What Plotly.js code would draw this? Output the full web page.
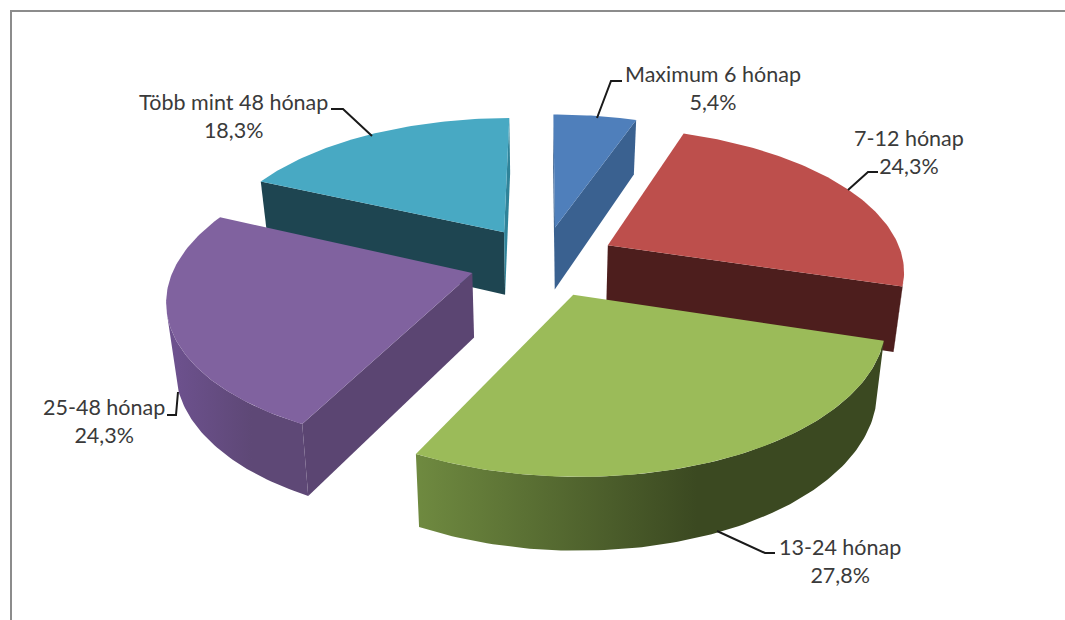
<!DOCTYPE html>
<html>
<head>
<meta charset="utf-8">
<script src="https://cdn.plot.ly/plotly-3.0.1.min.js"></script>
<style>html,body{margin:0;padding:0;background:#fff}#chart{width:1065px;height:620px}</style>
</head>
<body>
<div id="chart"></div>
<script>
const categories = ["Maximum 6 hónap", "7-12 hónap", "13-24 hónap", "25-48 hónap", "Több mint 48 hónap"];
const values = [5.4, 24.3, 27.8, 24.3, 18.3];
const topColors = ["#4f7fbb", "#bd4f4c", "#9bbb59", "#80629f", "#48a9c3"];
const startWallColors = ["#3a6190", "#4d1e1d", "#4f6130", "#5b4572", "#1e4551"];
const endWallColors = ["#3a6190", "#4d1e1d", "#4f6130", "#5b4572", "#2f8399"];
const outerLeft = ["#3a6190", "#4d1e1d", "#6f8a40", "#6e5290", "#1e4551"];
const outerRight = ["#3a6190", "#4d1e1d", "#3b4921", "#5e4876", "#1e4551"];
const labelX = [713, 909, 840, 104, 233];
const labelY = [88, 152, 561, 421, 116];
const leaderPaths = [
  "M 597 118 L 611 81 L 622 81",
  "M 848 190 L 868 172 L 878 172",
  "M 717 531 L 765 553 L 775 553",
  "M 178 392 L 176 415 L 167 415",
  "M 372 136 L 343 109 L 331 109"
];
const drawOrder = [4, 0, 1, 3, 2];

// Projection of the tilted pie into the page
const cx = 543, cy = 261, A = 296, B = 141, persp = 0.16, explode = 0.25;
function projTop(X, Y) {
  const w = 1 - persp * Y;
  return [cx + A * X / w, cy + B * Y / w];
}
function projBottom(X, Y) {
  const p = projTop(X, Y);
  return [cx + (p[0] - cx) * 0.975, p[1] + 64 + 8 * Y];
}
const total = values.reduce((a, b) => a + b, 0);
const rad = d => d * Math.PI / 180;
const traces = [];
function poly(pts, color, grad) {
  const t = {
    x: pts.map(p => p[0]).concat(pts[0][0]),
    y: pts.map(p => p[1]).concat(pts[0][1]),
    mode: "lines", line: {width: 0, color: color},
    fill: "toself", fillcolor: color, hoverinfo: "skip", showlegend: false
  };
  if (grad) t.fillgradient = {type: "horizontal", colorscale: grad};
  traces.push(t);
}
function visible(p, q, bp) {
  return (q[0]-p[0])*(bp[1]-p[1]) - (q[1]-p[1])*(bp[0]-p[0]) < 0;
}
const starts = [];
values.reduce((acc, v, i) => { starts[i] = acc; return acc + v / total * 360; }, 0);

drawOrder.forEach(i => {
  const a0 = starts[i], a1 = a0 + values[i] / total * 360, mid = (a0 + a1) / 2;
  const ox = explode * Math.sin(rad(mid)), oy = -explode * Math.cos(rad(mid));
  const apexT = projTop(ox, oy), apexB = projBottom(ox, oy);
  const rim = [];
  const n = Math.ceil(a1 - a0);
  for (let k = 0; k <= n; k++) {
    const a = rad(a0 + (a1 - a0) * k / n);
    rim.push([ox + Math.sin(a), oy - Math.cos(a)]);
  }
  const rimT = rim.map(r => projTop(r[0], r[1]));
  const rimB = rim.map(r => projBottom(r[0], r[1]));
  // radial walls
  if (visible(apexT, rimT[0], apexB)) poly([apexT, rimT[0], rimB[0], apexB], startWallColors[i]);
  if (visible(rimT[n], apexT, rimB[n])) poly([rimT[n], apexT, apexB, rimB[n]], endWallColors[i]);
  // outer wall, visible run only
  let run = [];
  for (let k = 0; k < n; k++) {
    if (visible(rimT[k], rimT[k+1], rimB[k])) run.push(k);
  }
  if (run.length) {
    const f = run[0], l = run[run.length - 1] + 1;
    const pts = rimT.slice(f, l + 1).concat(rimB.slice(f, l + 1).reverse());
    poly(pts, outerRight[i], [[0, outerLeft[i]], [0.6, outerRight[i]], [1, outerRight[i]]]);
  }
  // top face
  poly([apexT].concat(rimT), topColors[i]);
});

const fmt = v => v.toFixed(1).replace(".", ",") + "%";
const annotations = categories.map((c, i) => ({
  x: labelX[i], y: labelY[i], xref: "x", yref: "y",
  text: c + "<br>" + fmt(values[i]), showarrow: false,
  xanchor: "center", yanchor: "middle", align: "center",
  font: {family: "Lato, 'Open Sans', sans-serif", size: 21.5, color: "#3a3a3a"}
}));
const shapes = leaderPaths.map(p => ({type: "path", path: p, xref: "x", yref: "y",
  line: {color: "#1a1a1a", width: 2}}));
// Chart frame: left and top edges only
shapes.push({type: "path", path: "M 11 620 L 11 11 L 1065 11", xref: "x", yref: "y",
  line: {color: "#8c8c8c", width: 2}});

Plotly.newPlot("chart", traces, {
  width: 1065, height: 620,
  margin: {l: 0, r: 0, t: 0, b: 0},
  paper_bgcolor: "#ffffff", plot_bgcolor: "#ffffff",
  xaxis: {range: [0, 1065], visible: false, fixedrange: true},
  yaxis: {range: [620, 0], visible: false, fixedrange: true},
  showlegend: false, shapes: shapes, annotations: annotations
}, {displayModeBar: false, staticPlot: true});
</script>
</body>
</html>
